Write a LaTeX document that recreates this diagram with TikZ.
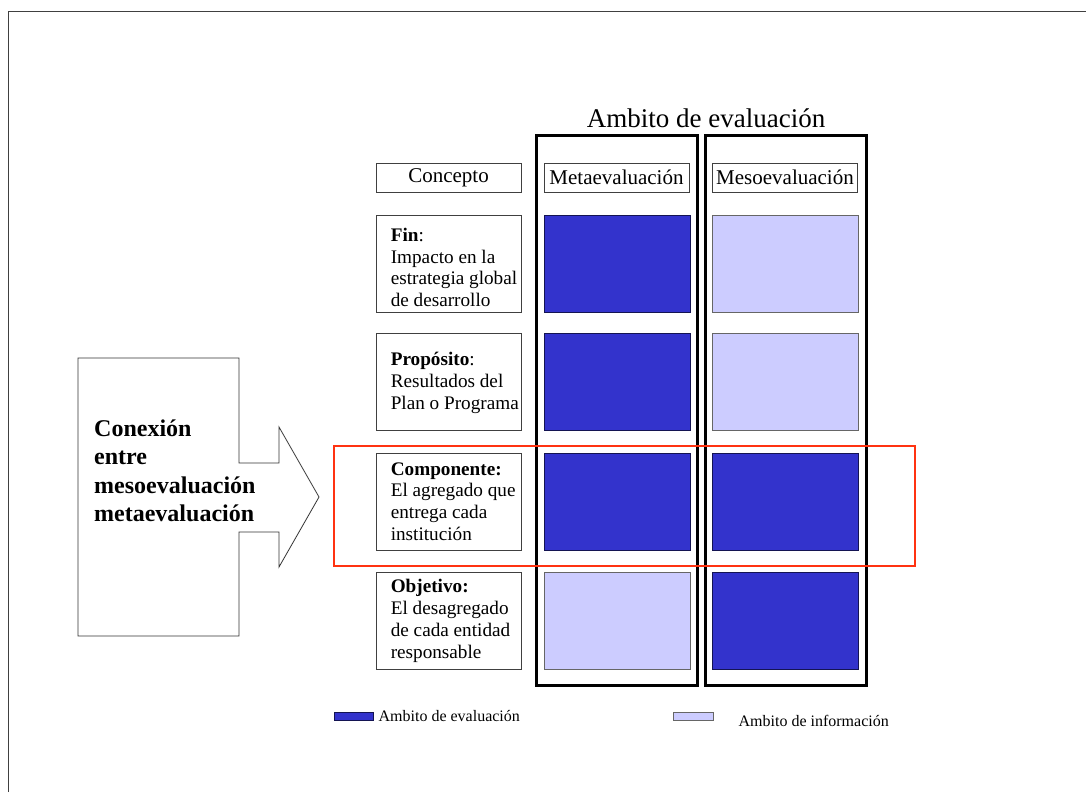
\documentclass[tikz,border=0pt]{standalone}
\usepackage{fontspec}
\setmainfont{Liberation Serif}
\definecolor{evalblue}{HTML}{3333CC}
\definecolor{infoblue}{HTML}{CCCCFF}
\definecolor{redframe}{HTML}{FF3311}
\begin{document}
\begin{tikzpicture}[x=1pt,y=-1pt,
  thinbox/.style={draw=black!75,line width=0.8pt,rectangle,inner sep=0pt},
  cell/.style={thinbox,minimum width=146pt,minimum height=97pt},
  evalcell/.style={cell,fill=evalblue,draw=black!60!evalblue},
  infocell/.style={cell,fill=infoblue,draw=black!60},
  headbox/.style={thinbox,minimum width=145pt,minimum height=29pt,font=\fontsize{21}{23}\selectfont},
  concept/.style={thinbox,minimum width=145pt,minimum height=97pt},
  concepttext/.style={anchor=west,align=left,inner sep=0pt,font=\fontsize{19.2}{21.8}\selectfont},
  column/.style={draw=black,line width=3pt,rectangle,minimum width=161pt,minimum height=550pt,inner sep=0pt},
  legendtext/.style={anchor=west,inner sep=0pt,font=\fontsize{16}{18}\selectfont}]
\useasboundingbox (0,0) rectangle (1086,792);
% page frame (top and left edges only)
\draw[black!75,line width=1.5pt] (8.5,792) -- (8.5,11.5) -- (1086,11.5);

% title and column frames
\node[font=\fontsize{27}{29}\selectfont,inner sep=0pt] (title) at (706,118) {Ambito de evaluación};
\node[column] (colmeta) at (616.5,410) {};
\node[column] (colmeso) at (785.5,410) {};

% header row
\node[headbox] (hconc) at (448.5,177.5) {Concepto};
\node[headbox] (hmeta) at (616.5,177.5) {Metaevaluación};
\node[headbox] (hmeso) at (785,177.5) {Mesoevaluación};

% concept boxes
\node[concept] (c1) at (448.5,263.5) {};
\node[concept] (c2) at (448.5,382) {};
\node[concept] (c3) at (448.5,501.5) {};
\node[concept] (c4) at (448.5,621) {};
\node[concepttext] (c1t) at ([xshift=15pt,yshift=-4pt]c1.west) {\textbf{Fin}:\\Impacto en la\\estrategia global\\de desarrollo};
\node[concepttext] (c2t) at ([xshift=15pt,yshift=-1pt]c2.west) {\textbf{Propósito}:\\Resultados del\\Plan o Programa};
\node[concepttext] (c3t) at ([xshift=15pt]c3.west) {\textbf{Componente:}\\El agregado que\\entrega cada\\institución};
\node[concepttext] (c4t) at ([xshift=15pt]c4.west) {\textbf{Objetivo:}\\El desagregado\\de cada entidad\\responsable};

% evaluation cells
\node[evalcell] (m1) at (617,263.5) {};
\node[evalcell] (m2) at (617,382) {};
\node[evalcell] (m3) at (617,501.5) {};
\node[infocell] (m4) at (617,621) {};
\node[infocell] (s1) at (785.5,263.5) {};
\node[infocell] (s2) at (785.5,382) {};
\node[evalcell] (s3) at (785.5,501.5) {};
\node[evalcell] (s4) at (785.5,621) {};

% highlighted row
\draw[redframe,line width=2.8pt] (334,446) rectangle (915,566);

% block arrow
\draw[black!80,line width=0.8pt,fill=white]
  (78,358) -- (239,358) -- (239,463) -- (279,463) -- (279,427)
  -- (319,497) -- (279,567) -- (279,532) -- (239,532) -- (239,636)
  -- (78,636) -- cycle;
\node[anchor=west,align=left,inner sep=0pt,font=\bfseries\fontsize{24}{28.5}\selectfont] (conn) at (94,471) {Conexión\\entre\\mesoevaluación\\metaevaluación};

% legend
\node[thinbox,fill=evalblue,draw=black!60!evalblue,minimum width=39pt,minimum height=8pt] (legeval) at (353.5,716) {};
\node[legendtext] (legevalt) at ([xshift=5pt]legeval.east) {Ambito de evaluación};
\node[thinbox,fill=infoblue,draw=black!60,minimum width=40pt,minimum height=8pt] (leginfo) at (693,716) {};
\node[legendtext] (leginfot) at ([xshift=25pt,yshift=-5pt]leginfo.east) {Ambito de información};
\end{tikzpicture}
\end{document}
